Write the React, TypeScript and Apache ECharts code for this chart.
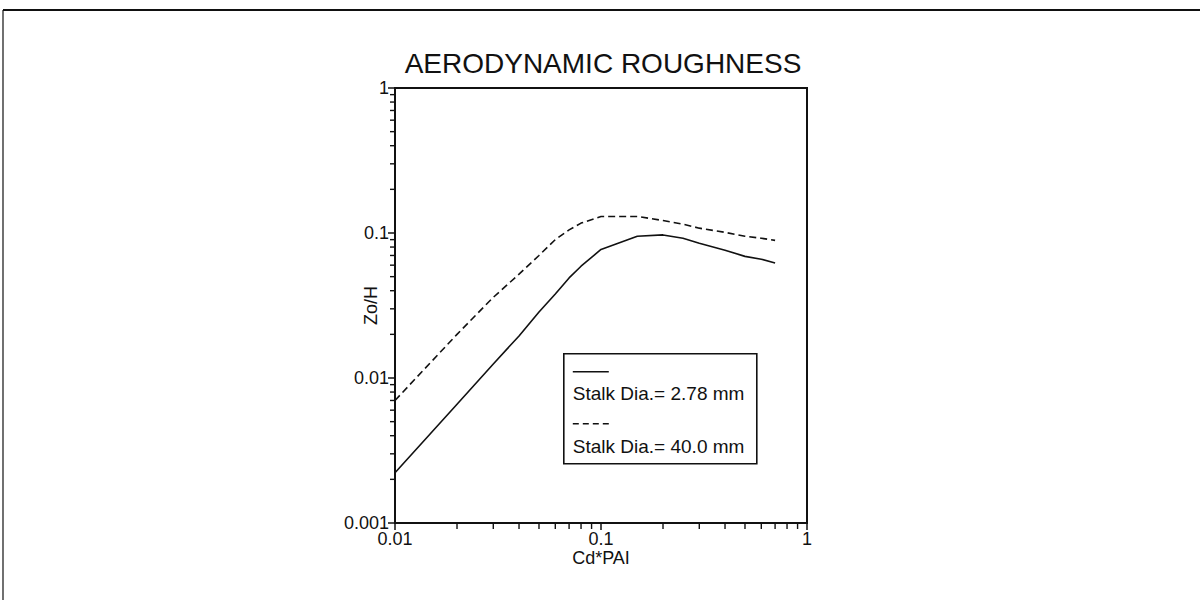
import React, { useEffect, useRef } from 'react';
import * as echarts from 'echarts';

const chartTitle = 'AERODYNAMIC ROUGHNESS';
const xAxisName = 'Cd*PAI';
const yAxisName = 'Zo/H';

const cdPai = [0.01, 0.02, 0.03, 0.04, 0.05, 0.06, 0.07, 0.08, 0.1, 0.15, 0.2, 0.25, 0.3, 0.4, 0.5, 0.6, 0.7];
const zoThinStalk = [0.00222, 0.0066, 0.0125, 0.0195, 0.0285, 0.038, 0.049, 0.059, 0.077, 0.095, 0.097, 0.092, 0.085, 0.076, 0.069, 0.066, 0.062];
const zoThickStalk = [0.007, 0.02, 0.036, 0.052, 0.07, 0.09, 0.105, 0.117, 0.13, 0.13, 0.122, 0.115, 0.108, 0.101, 0.095, 0.092, 0.089];

const seriesNames = ['Stalk Dia.= 2.78 mm', 'Stalk Dia.= 40.0 mm'];

const xTickLabels = ['0.01', '0.1', '1'];
const yTickLabels = ['0.001', '0.01', '0.1', '1'];
const xMin = 0.01;
const xMax = 1;
const yMin = 0.001;
const yMax = 1;

const xMinorTicks = [0.02, 0.03, 0.04, 0.05, 0.06, 0.07, 0.08, 0.09, 0.2, 0.3, 0.4, 0.5, 0.6, 0.7, 0.8, 0.9];
const yMinorTicks = [
  0.002, 0.003, 0.004, 0.005, 0.006, 0.007, 0.008, 0.009,
  0.02, 0.03, 0.04, 0.05, 0.06, 0.07, 0.08, 0.09,
  0.2, 0.3, 0.4, 0.5, 0.6, 0.7, 0.8, 0.9,
];

const FONT = '"Liberation Sans", Arial, Helvetica, sans-serif';
const INK = '#111';

const labelFor = (labels: string[], minV: number) => (v: number) => {
  const idx = Math.round(Math.log10(v) - Math.log10(minV));
  return labels[idx] ?? '';
};

export default function App() {
  const ref = useRef<HTMLDivElement>(null);

  useEffect(() => {
    if (!ref.current) return;
    const chart = echarts.init(ref.current, undefined, { renderer: 'svg' });

    const gridLeft = 395;
    const gridTop = 88;
    const gridW = 412;
    const gridH = 435;

    const legendX = 563;
    const legendY = 353;

    chart.setOption({
      animation: false,
      backgroundColor: '#fff',
      title: {
        text: chartTitle,
        left: gridLeft + gridW / 2 - 3,
        textAlign: 'center',
        top: 44,
        textStyle: { fontFamily: FONT, fontSize: 28, fontWeight: 'normal', color: INK },
      },
      grid: {
        left: gridLeft,
        top: gridTop,
        width: gridW,
        height: gridH,
        show: true,
        borderColor: INK,
        borderWidth: 2,
        backgroundColor: 'transparent',
      },
      xAxis: {
        type: 'log',
        logBase: 10,
        min: xMin,
        max: xMax,
        name: xAxisName,
        nameLocation: 'middle',
        nameGap: 26,
        nameMoveOverlap: false,
        nameTextStyle: { fontFamily: FONT, fontSize: 18, color: INK },
        axisLine: { show: true, lineStyle: { color: INK, width: 2 } },
        axisTick: { show: true, inside: false, length: 7, lineStyle: { color: INK, width: 1.5 } },
        minorTick: { show: false },
        splitLine: { show: false },
        axisLabel: {
          fontFamily: FONT,
          fontSize: 18,
          color: INK,
          margin: 7,
          formatter: labelFor(xTickLabels, xMin),
        },
      },
      yAxis: {
        type: 'log',
        logBase: 10,
        min: yMin,
        max: yMax,
        name: yAxisName,
        nameLocation: 'middle',
        nameGap: 15,
        nameMoveOverlap: false,
        nameTextStyle: { fontFamily: FONT, fontSize: 18, color: INK },
        axisLine: { show: true, lineStyle: { color: INK, width: 2 } },
        axisTick: { show: true, inside: false, length: 7, lineStyle: { color: INK, width: 1.5 } },
        minorTick: { show: false },
        splitLine: { show: false },
        axisLabel: {
          fontFamily: FONT,
          fontSize: 18,
          color: INK,
          margin: 6,
          formatter: labelFor(yTickLabels, yMin),
        },
      },
      series: [
        {
          name: seriesNames[0],
          type: 'line',
          data: cdPai.map((x, i) => [x, zoThinStalk[i]]),
          showSymbol: false,
          symbol: 'none',
          lineStyle: { color: INK, width: 1.6, type: 'solid' },
        },
        {
          name: seriesNames[1],
          type: 'line',
          data: cdPai.map((x, i) => [x, zoThickStalk[i]]),
          showSymbol: false,
          symbol: 'none',
          lineStyle: { color: INK, width: 1.6, type: [7, 4] },
        },
        {
          type: 'custom',
          clip: false,
          silent: true,
          data: xMinorTicks.map((v) => [v, yMin]),
          renderItem: (_p: any, api: any) => {
            const pt = api.coord([api.value(0), api.value(1)]);
            return {
              type: 'line',
              shape: { x1: pt[0], y1: pt[1], x2: pt[0], y2: pt[1] + 6 },
              style: { stroke: INK, lineWidth: 1.4 },
            };
          },
        },
        {
          type: 'custom',
          clip: false,
          silent: true,
          data: yMinorTicks.map((v) => [xMin, v]),
          renderItem: (_p: any, api: any) => {
            const pt = api.coord([api.value(0), api.value(1)]);
            return {
              type: 'line',
              shape: { x1: pt[0] - 5, y1: pt[1], x2: pt[0], y2: pt[1] },
              style: { stroke: INK, lineWidth: 1.4 },
            };
          },
        },
      ],
      graphic: [
        {
          type: 'line',
          shape: { x1: 3, y1: 10, x2: 1200, y2: 10 },
          style: { stroke: INK, lineWidth: 2 },
        },
        {
          type: 'line',
          shape: { x1: 3, y1: 10, x2: 3, y2: 600 },
          style: { stroke: INK, lineWidth: 1.2 },
        },
        {
          type: 'group',
          left: legendX,
          top: legendY,
          children: [
            {
              type: 'rect',
              shape: { x: 0, y: 0, width: 193, height: 110 },
              style: { fill: '#fff', stroke: INK, lineWidth: 1.6 },
            },
            {
              type: 'line',
              shape: { x1: 9, y1: 18, x2: 45, y2: 18 },
              style: { stroke: INK, lineWidth: 1.6 },
            },
            {
              type: 'text',
              x: 9,
              y: 40,
              style: {
                text: seriesNames[0],
                fontFamily: FONT,
                fontSize: 19,
                fill: INK,
                verticalAlign: 'middle',
                align: 'left',
              },
            },
            {
              type: 'line',
              shape: { x1: 9, y1: 70, x2: 45, y2: 70 },
              style: { stroke: INK, lineWidth: 1.6, lineDash: [6, 4] },
            },
            {
              type: 'text',
              x: 9,
              y: 93,
              style: {
                text: seriesNames[1],
                fontFamily: FONT,
                fontSize: 19,
                fill: INK,
                verticalAlign: 'middle',
                align: 'left',
              },
            },
          ],
        },
      ],
    });

    return () => {
      chart.dispose();
    };
  }, []);

  return (
    <div
      ref={ref}
      style={{ position: 'fixed', left: 0, top: 0, width: 1200, height: 600, background: '#fff' }}
    />
  );
}
